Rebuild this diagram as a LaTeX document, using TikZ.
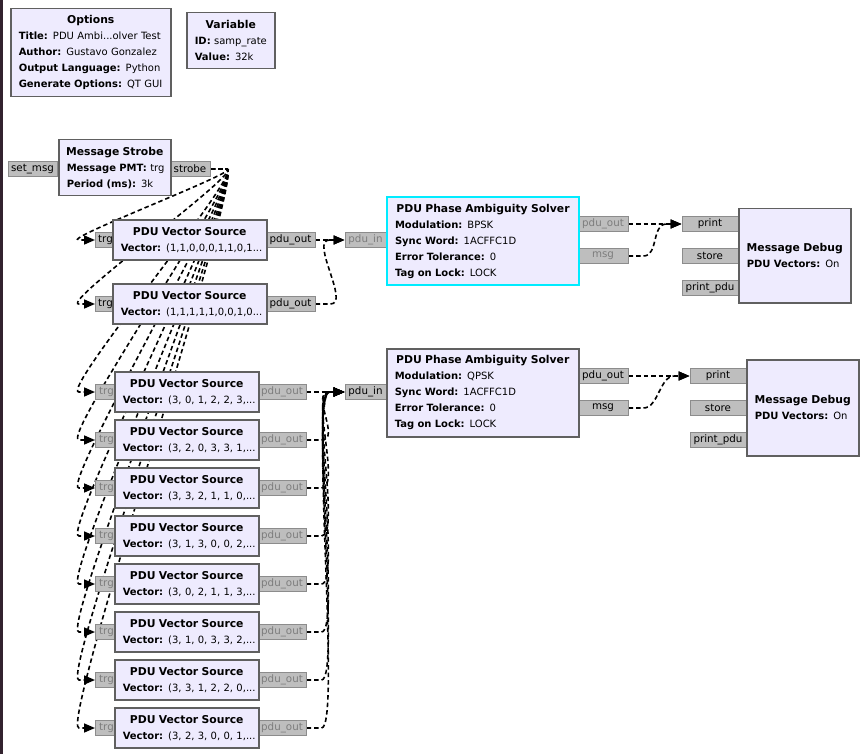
\documentclass[tikz,border=0pt]{standalone}
\usepackage{fontspec}
\setmainfont{DejaVu Sans}
\usetikzlibrary{arrows.meta}
\definecolor{blkfill}{RGB}{238,235,254}
\definecolor{blkline}{RGB}{96,96,96}
\definecolor{selline}{RGB}{0,236,255}
\definecolor{portfill}{RGB}{190,190,190}
\definecolor{portline}{RGB}{140,140,140}
\definecolor{porttext}{RGB}{125,125,125}
\definecolor{edgebar}{RGB}{50,34,46}
\newcommand{\blktitle}[1]{\makebox[\linewidth][c]{\fontsize{10.8}{16}\selectfont\bfseries #1}}
\newcommand{\prm}[2]{\mbox{\textbf{#1:} #2}}
\pgfdeclarelayer{back}
\pgfdeclarelayer{wires}
\pgfsetlayers{back,wires,main}

\begin{document}
\begin{tikzpicture}[
    x=1pt, y=-1pt,
    block/.style={draw=blkline, fill=blkfill, line width=1.5pt, anchor=north west, inner xsep=8pt, inner ysep=0pt, align=left, font=\fontsize{10}{16}\selectfont},
    port/.style={draw=portline, fill=portfill, line width=1pt, inner sep=0pt, minimum height=15pt, font=\fontsize{10.3}{12}\selectfont},
    offport/.style={port, text=porttext},
    wire/.style={line width=1.6pt, dash pattern=on 4.5pt off 3pt, -{Triangle[length=11pt,width=9pt]}}
]
    \useasboundingbox (0,0) rectangle (867,754);
    \begin{pgfonlayer}{back}
        \fill[white] (0,0) rectangle (867,754);
        \fill[edgebar] (0,0) rectangle (3,754);
    \end{pgfonlayer}

    % Options and variable
    \node[block, minimum width=160pt, minimum height=88pt, text width=144pt] (options) at (10,8) {\blktitle{Options}\\\prm{Title}{PDU Ambi...olver Test}\\\prm{Author}{Gustavo Gonzalez}\\\prm{Output Language}{Python}\\\prm{Generate Options}{QT GUI}};
    \node[block, minimum width=88pt, minimum height=56pt, text width=72pt] (samprate) at (186,12) {\blktitle{Variable}\\\prm{ID}{samp\_rate}\\\prm{Value}{32k}};

    % Message strobe
    \node[port, minimum width=49pt] (setmsg) at (32.5,169) {set\_msg};
    \node[port, minimum width=40pt] (strobe) at (190,169) {strobe};
    \node[block, minimum width=112pt, minimum height=56pt, text width=96pt] (msgstrobe) at (58,139) {\blktitle{Message Strobe}\\\prm{Message PMT}{trg}\\\prm{Period (ms)}{3k}};

    % BPSK sources
    \node[port, anchor=west, minimum width=20pt] (trgA) at (95,240) {trg};
    \node[port, minimum width=49pt] (outA) at (290.5,240) {pdu\_out};
    \node[block, minimum width=154pt, minimum height=40pt, text width=138pt] (srcA) at (112,219) {\blktitle{PDU Vector Source}\\\prm{Vector}{(1,1,0,0,0,1,1,0,1...}};
    \node[port, anchor=west, minimum width=20pt] (trgB) at (95,304) {trg};
    \node[port, minimum width=49pt] (outB) at (290.5,304) {pdu\_out};
    \node[block, minimum width=154pt, minimum height=40pt, text width=138pt] (srcB) at (112,283) {\blktitle{PDU Vector Source}\\\prm{Vector}{(1,1,1,1,1,0,0,1,0...}};

    % QPSK sources
    \node[offport, anchor=west, minimum width=22pt] (trg1) at (95,392) {trg};
    \node[offport, minimum width=48pt] (out1) at (282,392) {pdu\_out};
    \node[block, minimum width=144pt, minimum height=40pt, text width=128pt] (src1) at (114,371) {\blktitle{PDU Vector Source}\\\prm{Vector}{(3, 0, 1, 2, 2, 3,...}};
    \node[offport, anchor=west, minimum width=22pt] (trg2) at (95,440) {trg};
    \node[offport, minimum width=48pt] (out2) at (282,440) {pdu\_out};
    \node[block, minimum width=144pt, minimum height=40pt, text width=128pt] (src2) at (114,419) {\blktitle{PDU Vector Source}\\\prm{Vector}{(3, 2, 0, 3, 3, 1,...}};
    \node[offport, anchor=west, minimum width=22pt] (trg3) at (95,488) {trg};
    \node[offport, minimum width=48pt] (out3) at (282,488) {pdu\_out};
    \node[block, minimum width=144pt, minimum height=40pt, text width=128pt] (src3) at (114,467) {\blktitle{PDU Vector Source}\\\prm{Vector}{(3, 3, 2, 1, 1, 0,...}};
    \node[offport, anchor=west, minimum width=22pt] (trg4) at (95,536) {trg};
    \node[offport, minimum width=48pt] (out4) at (282,536) {pdu\_out};
    \node[block, minimum width=144pt, minimum height=40pt, text width=128pt] (src4) at (114,515) {\blktitle{PDU Vector Source}\\\prm{Vector}{(3, 1, 3, 0, 0, 2,...}};
    \node[offport, anchor=west, minimum width=22pt] (trg5) at (95,584) {trg};
    \node[offport, minimum width=48pt] (out5) at (282,584) {pdu\_out};
    \node[block, minimum width=144pt, minimum height=40pt, text width=128pt] (src5) at (114,563) {\blktitle{PDU Vector Source}\\\prm{Vector}{(3, 0, 2, 1, 1, 3,...}};
    \node[offport, anchor=west, minimum width=22pt] (trg6) at (95,632) {trg};
    \node[offport, minimum width=48pt] (out6) at (282,632) {pdu\_out};
    \node[block, minimum width=144pt, minimum height=40pt, text width=128pt] (src6) at (114,611) {\blktitle{PDU Vector Source}\\\prm{Vector}{(3, 1, 0, 3, 3, 2,...}};
    \node[offport, anchor=west, minimum width=22pt] (trg7) at (95,680) {trg};
    \node[offport, minimum width=48pt] (out7) at (282,680) {pdu\_out};
    \node[block, minimum width=144pt, minimum height=40pt, text width=128pt] (src7) at (114,659) {\blktitle{PDU Vector Source}\\\prm{Vector}{(3, 3, 1, 2, 2, 0,...}};
    \node[offport, anchor=west, minimum width=22pt] (trg8) at (95,728) {trg};
    \node[offport, minimum width=48pt] (out8) at (282,728) {pdu\_out};
    \node[block, minimum width=144pt, minimum height=40pt, text width=128pt] (src8) at (114,707) {\blktitle{PDU Vector Source}\\\prm{Vector}{(3, 2, 3, 0, 0, 1,...}};

    % BPSK solver (selected)
    \node[offport, minimum width=41pt] (bpskIn) at (365.5,240) {pdu\_in};
    \node[offport, minimum width=50pt] (bpskOut) at (603,224) {pdu\_out};
    \node[offport, minimum width=50pt] (bpskMsg) at (603,256) {msg};
    \node[block, draw=selline, line width=2pt, minimum width=192pt, minimum height=88pt, text width=176pt] (bpsk) at (386,196) {\blktitle{PDU Phase Ambiguity Solver}\\\prm{Modulation}{BPSK}\\\prm{Sync Word}{1ACFFC1D}\\\prm{Error Tolerance}{0}\\\prm{Tag on Lock}{LOCK}};

    % QPSK solver
    \node[port, minimum width=41pt] (qpskIn) at (365.5,392) {pdu\_in};
    \node[port, minimum width=50pt] (qpskOut) at (603,376) {pdu\_out};
    \node[port, minimum width=50pt] (qpskMsg) at (603,408) {msg};
    \node[block, minimum width=192pt, minimum height=88pt, text width=176pt] (qpsk) at (386,348) {\blktitle{PDU Phase Ambiguity Solver}\\\prm{Modulation}{QPSK}\\\prm{Sync Word}{1ACFFC1D}\\\prm{Error Tolerance}{0}\\\prm{Tag on Lock}{LOCK}};

    % Debug sinks
    \node[port, minimum width=56pt] (dbgAprint) at (710,224) {print};
    \node[port, minimum width=56pt] (dbgAstore) at (710,256) {store};
    \node[port, minimum width=56pt] (dbgApdu) at (710,288) {print\_pdu};
    \node[block, minimum width=112pt, minimum height=94pt, text width=96pt] (dbgA) at (738,208) {\blktitle{Message Debug}\\\prm{PDU Vectors}{On}};
    \node[port, minimum width=56pt] (dbgBprint) at (718,376) {print};
    \node[port, minimum width=56pt] (dbgBstore) at (718,408) {store};
    \node[port, minimum width=56pt] (dbgBpdu) at (718,440) {print\_pdu};
    \node[block, minimum width=112pt, minimum height=96pt, text width=96pt] (dbgB) at (746,359) {\blktitle{Message Debug}\\\prm{PDU Vectors}{On}};

    \begin{pgfonlayer}{wires}
    % Strobe to every trigger
    \draw[wire] (strobe.east) -- ++(16,0) .. controls +(20,0) and +(-20,0) .. ([xshift=-16pt]trgA.west) -- (trgA.west);
    \draw[wire] (strobe.east) -- ++(16,0) .. controls +(20,0) and +(-20,0) .. ([xshift=-16pt]trgB.west) -- (trgB.west);
    \draw[wire] (strobe.east) -- ++(16,0) .. controls +(20,0) and +(-20,0) .. ([xshift=-16pt]trg1.west) -- (trg1.west);
    \draw[wire] (strobe.east) -- ++(16,0) .. controls +(20,0) and +(-20,0) .. ([xshift=-16pt]trg2.west) -- (trg2.west);
    \draw[wire] (strobe.east) -- ++(16,0) .. controls +(20,0) and +(-20,0) .. ([xshift=-16pt]trg3.west) -- (trg3.west);
    \draw[wire] (strobe.east) -- ++(16,0) .. controls +(20,0) and +(-20,0) .. ([xshift=-16pt]trg4.west) -- (trg4.west);
    \draw[wire] (strobe.east) -- ++(16,0) .. controls +(20,0) and +(-20,0) .. ([xshift=-16pt]trg5.west) -- (trg5.west);
    \draw[wire] (strobe.east) -- ++(16,0) .. controls +(20,0) and +(-20,0) .. ([xshift=-16pt]trg6.west) -- (trg6.west);
    \draw[wire] (strobe.east) -- ++(16,0) .. controls +(20,0) and +(-20,0) .. ([xshift=-16pt]trg7.west) -- (trg7.west);
    \draw[wire] (strobe.east) -- ++(16,0) .. controls +(20,0) and +(-20,0) .. ([xshift=-16pt]trg8.west) -- (trg8.west);

    % Sources to solvers
    \draw[wire] (outA.east) -- ++(15,0) .. controls +(20,0) and +(-20,0) .. ([xshift=-15pt]bpskIn.west) -- (bpskIn.west);
    \draw[wire] (outB.east) -- ++(15,0) .. controls +(20,0) and +(-20,0) .. ([xshift=-15pt]bpskIn.west) -- (bpskIn.west);
    \draw[wire] (out1.east) -- ++(15,0) .. controls +(20,0) and +(-20,0) .. ([xshift=-15pt]qpskIn.west) -- (qpskIn.west);
    \draw[wire] (out2.east) -- ++(15,0) .. controls +(20,0) and +(-20,0) .. ([xshift=-15pt]qpskIn.west) -- (qpskIn.west);
    \draw[wire] (out3.east) -- ++(15,0) .. controls +(20,0) and +(-20,0) .. ([xshift=-15pt]qpskIn.west) -- (qpskIn.west);
    \draw[wire] (out4.east) -- ++(15,0) .. controls +(20,0) and +(-20,0) .. ([xshift=-15pt]qpskIn.west) -- (qpskIn.west);
    \draw[wire] (out5.east) -- ++(15,0) .. controls +(20,0) and +(-20,0) .. ([xshift=-15pt]qpskIn.west) -- (qpskIn.west);
    \draw[wire] (out6.east) -- ++(15,0) .. controls +(20,0) and +(-20,0) .. ([xshift=-15pt]qpskIn.west) -- (qpskIn.west);
    \draw[wire] (out7.east) -- ++(15,0) .. controls +(20,0) and +(-20,0) .. ([xshift=-15pt]qpskIn.west) -- (qpskIn.west);
    \draw[wire] (out8.east) -- ++(15,0) .. controls +(20,0) and +(-20,0) .. ([xshift=-15pt]qpskIn.west) -- (qpskIn.west);

    % Solvers to debug sinks
    \draw[wire] (bpskOut.east) -- ++(15,0) .. controls +(15,0) and +(-15,0) .. ([xshift=-15pt]dbgAprint.west) -- (dbgAprint.west);
    \draw[wire] (bpskMsg.east) -- ++(15,0) .. controls +(15,0) and +(-15,0) .. ([xshift=-15pt]dbgAprint.west) -- (dbgAprint.west);
    \draw[wire] (qpskOut.east) -- ++(15,0) .. controls +(15,0) and +(-15,0) .. ([xshift=-15pt]dbgBprint.west) -- (dbgBprint.west);
    \draw[wire] (qpskMsg.east) -- ++(15,0) .. controls +(15,0) and +(-15,0) .. ([xshift=-15pt]dbgBprint.west) -- (dbgBprint.west);
    \end{pgfonlayer}
\end{tikzpicture}
\end{document}
